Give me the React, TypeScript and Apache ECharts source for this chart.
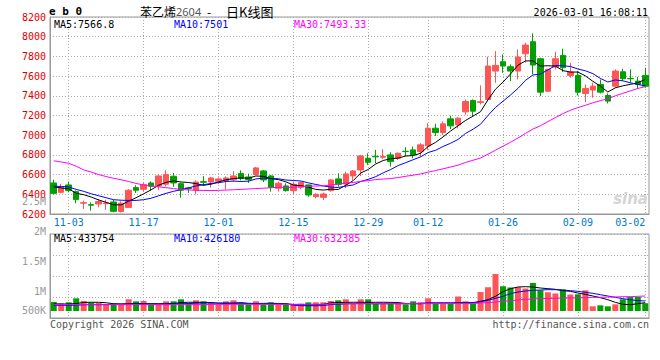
import React, { useEffect, useRef } from 'react';
import * as echarts from 'echarts';

const dates = [
  '10-30','10-31',
  '11-03','11-04','11-05','11-06','11-07','11-10','11-11','11-12','11-13','11-14',
  '11-17','11-18','11-19','11-20','11-21','11-24','11-25','11-26','11-27','11-28',
  '12-01','12-02','12-03','12-04','12-05','12-08','12-09','12-10','12-11','12-12',
  '12-15','12-16','12-17','12-18','12-19','12-22','12-23','12-24','12-25','12-26',
  '12-29','12-30','12-31',
  '01-05','01-06','01-07','01-08','01-09','01-12','01-13','01-14','01-15','01-16',
  '01-19','01-20','01-21','01-22','01-23','01-26','01-27','01-28','01-29','01-30',
  '02-02','02-03','02-04','02-05','02-06','02-09','02-10','02-11','02-12','02-13',
  '02-24','02-25','02-26','02-27','03-02',
];

const opens = [
  6515,6420,6495,6427,6310,6295,6302,6305,6322,6225,
  6267,6468,6451,6515,6485,6502,6583,6508,6465,6441,
  6528,6525,6532,6536,6549,6610,6576,6600,6637,6586,
  6461,6485,6437,6471,6495,6376,6369,6437,6556,6505,
  6586,6647,6766,6786,6776,6800,6766,6837,6851,6834,
  6892,7071,7027,7166,7105,7237,7353,7332,7363,7651,
  7746,7695,7651,7827,7949,7776,7447,7692,7810,7607,
  7607,7424,7458,7515,7403,7498,7644,7576,7549,7607,
];
const closes = [
  6410,6471,6437,6346,6315,6290,6326,6312,6227,6310,
  6441,6441,6498,6481,6586,6600,6515,6441,6458,6525,
  6522,6566,6556,6566,6586,6559,6549,6668,6546,6471,
  6512,6437,6502,6519,6393,6400,6403,6546,6502,6607,
  6637,6790,6725,6780,6783,6732,6817,6834,6800,6902,
  7071,7027,7115,7095,7173,7342,7244,7339,7702,7709,
  7702,7651,7793,7915,7712,7437,7668,7776,7685,7641,
  7437,7475,7498,7437,7346,7651,7573,7573,7515,7498,
];
const lows = [
  6400,6410,6420,6308,6251,6234,6268,6241,6217,6215,
  6260,6414,6431,6437,6441,6481,6475,6366,6414,6400,
  6485,6468,6508,6451,6525,6542,6515,6593,6525,6427,
  6427,6427,6400,6451,6376,6359,6342,6427,6478,6461,
  6546,6586,6698,6715,6756,6681,6749,6783,6766,6783,
  6851,6993,7003,7061,7071,7210,7186,7312,7346,7532,
  7634,7549,7566,7736,7617,7397,7437,7668,7641,7583,
  7403,7336,7380,7424,7322,7481,7549,7532,7471,7481,
];
const highs = [
  6549,6505,6529,6440,6336,6318,6353,6346,6343,6330,
  6451,6492,6519,6532,6600,6644,6617,6519,6475,6542,
  6583,6576,6570,6583,6634,6644,6610,6678,6647,6597,
  6529,6512,6529,6529,6500,6410,6417,6553,6613,6630,
  6647,6800,6817,6851,6858,6827,6824,6878,6885,6919,
  7122,7115,7139,7197,7183,7363,7363,7505,7797,7854,
  7820,7719,7871,7939,8034,7786,7675,7844,7878,7736,
  7651,7515,7532,7566,7424,7668,7675,7668,7593,7685,
];

const ma5 = [
  6475,6465,6455,6410,6396,6372,6343,6318,6294,6292,
  6330,6365,6405,6445,6492,6521,6536,6525,6520,6508,
  6492,6502,6525,6547,6559,6567,6563,6586,6582,6559,
  6549,6527,6494,6488,6473,6450,6443,6452,6449,6492,
  6539,6616,6652,6708,6743,6762,6767,6789,6793,6817,
  6885,6927,6983,7042,7096,7150,7194,7239,7360,7467,
  7539,7621,7711,7754,7755,7702,7705,7702,7656,7641,
  7641,7603,7547,7498,7439,7481,7501,7516,7532,7567,
];
const ma10 = [
  6482,6480,6475,6450,6430,6405,6385,6365,6345,6340,
  6338,6338,6345,6360,6385,6410,6430,6448,6465,6485,
  6497,6510,6518,6530,6534,6530,6533,6556,6565,6559,
  6558,6545,6540,6535,6516,6500,6485,6473,6469,6483,
  6495,6530,6552,6579,6618,6651,6692,6721,6751,6780,
  6824,6847,6886,6918,6957,7018,7061,7111,7201,7282,
  7345,7408,7475,7557,7611,7621,7663,7707,7705,7698,
  7672,7654,7625,7577,7540,7561,7552,7532,7515,7501,
];
const ma30 = [
  6740,6728,6715,6685,6648,6625,6600,6580,6562,6548,
  6530,6510,6495,6485,6476,6467,6458,6450,6445,6441,
  6439,6438,6440,6443,6446,6450,6454,6458,6462,6467,
  6471,6469,6472,6477,6480,6484,6486,6494,6503,6513,
  6520,6531,6539,6549,6555,6560,6570,6583,6594,6607,
  6625,6641,6659,6677,6696,6723,6746,6768,6807,6848,
  6888,6928,6971,7018,7062,7096,7138,7179,7219,7253,
  7280,7303,7329,7351,7369,7400,7425,7450,7474,7493,
];

const volumes = [
  360000,307000,347000,507000,400000,333000,320000,267000,293000,267000,
  467000,387000,400000,267000,267000,387000,387000,467000,320000,427000,
  387000,320000,267000,387000,427000,293000,267000,387000,267000,347000,
  267000,293000,267000,293000,347000,347000,347000,400000,427000,467000,
  293000,467000,467000,293000,293000,293000,293000,267000,387000,347000,
  507000,293000,293000,293000,580000,387000,293000,760000,950000,1480000,
  990000,940000,950000,900000,1120000,830000,750000,700000,860000,660000,
  667000,827000,187000,227000,187000,267000,470000,560000,560000,310000,
];
const volMa5 = [
  285000,280000,278000,300000,340000,350000,348000,330000,290000,280000,
  290000,300000,296000,292000,290000,295000,300000,340000,350000,347000,
  345000,340000,310000,305000,307000,310000,308000,300000,305000,310000,
  300000,290000,260000,253000,250000,255000,265000,330000,335000,345000,
  350000,347000,345000,348000,350000,345000,340000,300000,293000,290000,
  320000,322000,318000,320000,333000,335000,333000,387000,453000,587000,
  773000,893000,960000,973000,960000,920000,893000,867000,813000,787000,
  720000,667000,600000,533000,453000,347000,267000,253000,293000,333000,
];
const volMa10 = [
  230000,228000,227000,235000,250000,255000,253000,258000,275000,280000,
  282000,280000,278000,280000,282000,280000,290000,293000,295000,315000,
  320000,322000,320000,318000,320000,340000,300000,293000,290000,292000,
  293000,290000,230000,215000,213000,210000,215000,260000,267000,290000,
  293000,295000,293000,290000,292000,293000,295000,293000,300000,307000,
  318000,320000,322000,320000,318000,320000,333000,360000,427000,507000,
  587000,693000,760000,800000,827000,840000,853000,853000,840000,813000,
  787000,747000,707000,653000,600000,547000,493000,453000,413000,400000,
];
const volMa30 = [
  255000,254000,254000,253000,253000,252000,252000,253000,253000,254000,
  254000,253000,253000,252000,252000,253000,253000,254000,254000,255000,
  255000,262000,265000,266000,267000,267000,268000,268000,267000,267000,
  266000,266000,267000,268000,268000,269000,270000,285000,290000,292000,
  293000,293000,294000,294000,293000,293000,292000,292000,293000,294000,
  295000,295000,296000,296000,297000,298000,300000,320000,333000,360000,
  387000,413000,440000,467000,480000,493000,507000,507000,520000,520000,
  533000,533000,547000,547000,560000,560000,573000,573000,587000,600000,
];

const dateLabels = ['11-03','11-17','12-01','12-15','12-29','01-12','01-26','02-09','03-02'];
const volAxisLabels = ['2.5M', '2M', '1.5M', '1M', '500K'];
const volAxisValues = [2500000, 2000000, 1500000, 1000000, 500000];

const titleName = '苯乙烯';
const titleCode = '2604';
const titleKind = '日K线图';
const symbolText = 'e b 0';
const stampText = '2026-03-01 16:08:11';
const priceLegend = ['MA5:7566.8', 'MA10:7501', 'MA30:7493.33'];
const volLegend = ['MA5:433754', 'MA10:426180', 'MA30:632385'];

const RED = '#ff5555';
const GREEN = '#00a000';
const MONO = '"DejaVu Sans Mono", monospace';
const DOT = { color: '#aaaaaa', width: 1, type: [1, 2] as any };
const legendColors = ['#000000', '#0000ff', '#ff00ff'];
const legendX = [54, 174, 294];

function txt(text: string, x: number, y: number, fill: string, extra: any = {}) {
  return {
    type: 'text', x, y, z: 100, silent: true,
    style: { text, fill, fontSize: 10, fontFamily: MONO, align: 'left', verticalAlign: 'middle', ...extra },
  };
}

export default function App() {
  const ref = useRef<HTMLDivElement>(null);
  useEffect(() => {
    const chart = echarts.init(ref.current!, undefined, { renderer: 'svg' });
    const showDate = (_i: number, v: string) => dateLabels.includes(v);
    const graphics: any[] = [
      txt(symbolText, 49, 11, '#000', { fontSize: 11, fontWeight: 'bold' }),
      txt(titleName, 140, 11, '#000', { fontSize: 12, fontFamily: '"Noto Sans CJK SC", sans-serif' }),
      txt(titleCode, 176, 11, '#555', { fontSize: 11, fontFamily: '"Noto Sans", sans-serif' }),
      txt('-', 207, 11, '#000', { fontSize: 12, fontFamily: '"Noto Sans CJK SC", sans-serif' }),
      txt(titleKind, 226, 11, '#000', { fontSize: 13, fontFamily: '"Noto Sans CJK SC", sans-serif' }),
      txt(stampText, 648, 12, '#000', { align: 'right' }),
      txt('Copyright 2026 SINA.COM', 50, 324, '#555'),
      txt('http://finance.sina.com.cn', 649, 324, '#555', { align: 'right' }),
      txt('sina', 648, 199, '#d4d4d4', { align: 'right', fontSize: 15, fontStyle: 'italic', fontWeight: 'bold', fontFamily: '"DejaVu Sans", sans-serif' }),
    ];
    priceLegend.forEach((t, k) => graphics.push(txt(t, legendX[k], 24, legendColors[k])));
    volLegend.forEach((t, k) => graphics.push(txt(t, legendX[k], 238.5, legendColors[k])));
    volAxisLabels.forEach((t, k) => {
      const y = Math.min(351 - (volAxisValues[k] / 1e6) * 60, 310);
      graphics.push(txt(t, 46, y, '#999', { align: 'right' }));
    });

    const lineSeries = (name: string, data: number[], color: string, xi: number, yi: number) => ({
      name, type: 'line', data, xAxisIndex: xi, yAxisIndex: yi, showSymbol: false, symbol: 'none',
      lineStyle: { color, width: 1 }, itemStyle: { color }, silent: true, z: 5,
    });

    const option: any = {
      animation: false,
      backgroundColor: '#ffffff',
      grid: [
        { left: 50, right: 11, top: 17, height: 197, show: true, borderColor: '#999', borderWidth: 1, backgroundColor: '#fff' },
        { left: 50, right: 11, top: 234, height: 84, show: true, borderColor: '#999', borderWidth: 1, backgroundColor: '#fff' },
      ],
      xAxis: [
        {
          type: 'category', gridIndex: 0, data: dates, boundaryGap: true,
          axisLine: { show: true, lineStyle: { color: '#999' } }, axisTick: { show: false },
          axisLabel: { interval: showDate, color: '#0078d4', fontFamily: MONO, fontSize: 10, margin: 3, alignMaxLabel: 'right' },
          splitLine: { show: true, interval: showDate, alignWithLabel: true, lineStyle: DOT },
        },
        {
          type: 'category', gridIndex: 1, data: dates, boundaryGap: true,
          axisLine: { show: true, lineStyle: { color: '#999' } }, axisTick: { show: false },
          axisLabel: { show: false },
          splitLine: { show: true, interval: showDate, alignWithLabel: true, lineStyle: DOT },
        },
      ],
      yAxis: [
        {
          type: 'value', gridIndex: 0, min: 6200, max: 8200, interval: 200,
          axisLine: { show: true, lineStyle: { color: '#999' } }, axisTick: { show: false },
          axisLabel: { color: '#e00000', fontFamily: MONO, fontSize: 10, margin: 4, formatter: (v: number) => String(v) },
          splitLine: { show: true, lineStyle: DOT },
        },
        {
          type: 'value', gridIndex: 1, min: 0, max: 4, interval: 1,
          axisLine: { show: true, lineStyle: { color: '#999' } }, axisTick: { show: false },
          axisLabel: { show: false },
          splitLine: { show: true, lineStyle: DOT },
        },
        {
          type: 'value', gridIndex: 1, min: -280000, max: 3080000, show: false,
          splitLine: { show: false },
        },
      ],
      series: [
        {
          name: 'K', type: 'candlestick', xAxisIndex: 0, yAxisIndex: 0, barWidth: 6,
          data: opens.map((o, i) => [o, closes[i], lows[i], highs[i]]),
          itemStyle: { color: RED, color0: GREEN, borderColor: RED, borderColor0: GREEN, borderWidth: 1 },
          silent: true,
        },
        lineSeries('MA5', ma5, '#000000', 0, 0),
        lineSeries('MA10', ma10, '#0000ff', 0, 0),
        lineSeries('MA30', ma30, '#ff00ff', 0, 0),
        {
          name: 'VOL', type: 'bar', xAxisIndex: 1, yAxisIndex: 2, barWidth: 6, silent: true,
          data: volumes.map((v, i) => ({ value: v, itemStyle: { color: closes[i] >= opens[i] ? RED : GREEN } })),
        },
        lineSeries('VMA5', volMa5, '#000000', 1, 2),
        lineSeries('VMA10', volMa10, '#0000ff', 1, 2),
        lineSeries('VMA30', volMa30, '#ff00ff', 1, 2),
      ],
      graphic: graphics,
    };
    chart.setOption(option);
    return () => chart.dispose();
  }, []);
  return (
    <div
      ref={ref}
      style={{ position: 'absolute', left: 0, top: 0, width: 660, height: 360, background: '#fff' }}
    />
  );
}
